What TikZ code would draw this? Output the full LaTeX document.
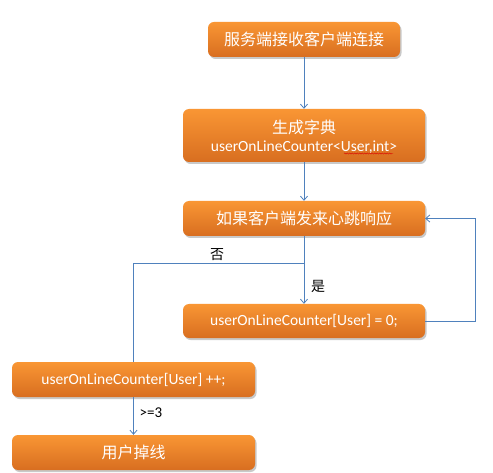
\documentclass[tikz,border=0pt]{standalone}
\usepackage{fontspec}
\setmainfont{Carlito}
\newfontfamily\cjk{Noto Sans CJK SC}
\usetikzlibrary{arrows.meta,shadows,decorations.pathmorphing}
\definecolor{otop}{RGB}{249,150,52}
\definecolor{obot}{RGB}{216,110,32}
\definecolor{lineblue}{RGB}{79,129,189}
\begin{document}
\begin{tikzpicture}[x=1pt,y=-1pt,
  box/.style={rounded corners=6pt, top color=otop, bottom color=obot, draw=none,
    text=white, align=center, inner sep=0pt,
    drop shadow={shadow xshift=1.5pt, shadow yshift=-2pt, fill=black!35, opacity=0.6}},
  conn/.style={draw=lineblue, line width=0.8pt},
  arr/.style={conn, -{Straight Barb[length=4pt,width=7pt,line width=0.8pt]}},
  lbl/.style={text=black, font=\fontsize{15}{17}\selectfont, inner sep=0pt}]
\useasboundingbox (0,0) rectangle (493,473);
\fill[white] (0,0) rectangle (493,473);

\node[box, minimum width=192pt, minimum height=35pt] (b1) at (304,39.5)
  {\cjk\fontsize{16}{18}\selectfont 服务端接收客户端连接};
\node[box, minimum width=242pt, minimum height=53pt] (b2) at (304,135.5) {};
\node[text=white, inner sep=0pt] (b2a) at (304,127) {\cjk\fontsize{16}{18}\selectfont 生成字典};
\node[text=white, inner sep=0pt] (b2b) at (304,147) {\fontsize{15.5}{17}\selectfont userOnLineCounter<User,int>};
\node[box, minimum width=242pt, minimum height=35pt] (b3) at (304,218.5)
  {\cjk\fontsize{16}{18}\selectfont 如果客户端发来心跳响应};
\node[box, minimum width=242pt, minimum height=34pt] (b4) at (304,321)
  {\fontsize{15.5}{17}\selectfont userOnLineCounter[User] = 0;};
\node[box, minimum width=243pt, minimum height=35pt] (b5) at (133.5,379.5)
  {\fontsize{15.5}{17}\selectfont userOnLineCounter[User] ++;};
\node[box, minimum width=243pt, minimum height=35pt] (b6) at (133.5,452.5)
  {\cjk\fontsize{16}{18}\selectfont 用户掉线};

\coordinate (w1) at (344,153.5);
\coordinate (w2) at (393,153.5);
\draw[red!85!black, line width=0.4pt, decorate, decoration={snake, amplitude=0.6pt, segment length=2.5pt}] (w1) -- (w2);

\draw[arr] (b1.south) -- (b2.north);
\draw[arr] (b2.south) -- (b3.north);
\draw[arr] (b3.south) -- (b4.north);
\coordinate (br) at (304,263);
\draw[conn] (br) -| (b5.north);
\draw[arr] (b5.south) -- (b6.north);
\coordinate (lp) at (475,321);
\draw[arr] (b4.east) -- (lp) |- (b3.east);

\node[lbl] (no) at (217,255) {\cjk\fontsize{14}{16}\selectfont 否};
\node[lbl] (yes) at (318,286) {\cjk\fontsize{14}{16}\selectfont 是};
\node[lbl] (ge) at (151,413) {>=3};
\end{tikzpicture}
\end{document}
